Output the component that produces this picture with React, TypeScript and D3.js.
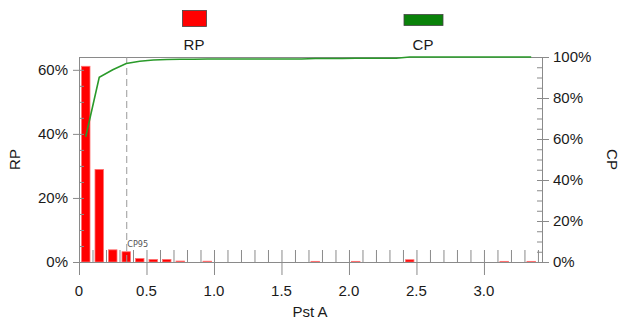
import React, { useRef, useEffect } from 'react';
import * as d3 from 'd3';

// bin starts (width 0.1) and relative percentage per bin
const binStarts = d3.range(0, 34).map(i => +(i * 0.1).toFixed(1));
const rpValues = [
  61.1, 28.9, 3.8, 3.2, 1.1, 0.8, 0.8, 0.3, 0, 0.25,
  0, 0, 0, 0, 0, 0, 0, 0.2, 0, 0,
  0.2, 0, 0, 0, 0.7, 0, 0, 0, 0, 0,
  0, 0.2, 0, 0.2,
];
// cumulative percentage at bin centres
const cpValues = [
  61.1, 90.1, 93.8, 96.8, 97.9, 98.5, 98.8, 98.9, 98.9, 99.0,
  99.0, 99.0, 99.0, 99.0, 99.0, 99.0, 99.0, 99.3, 99.3, 99.3,
  99.4, 99.4, 99.4, 99.4, 100, 100, 100, 100, 100, 100,
  100, 100, 100, 100,
];
const xTicks = [0, 0.5, 1.0, 1.5, 2.0, 2.5, 3.0];
const leftTicks = [0, 20, 40, 60];
const rightTicks = [0, 20, 40, 60, 80, 100];
const cp95 = 0.35;

const W = 624;
const H = 320;
const margin = { top: 57, right: 82, bottom: 58, left: 79 };
const font = '"Liberation Sans", Arial, sans-serif';

const App: React.FC = () => {
  const svgRef = useRef<SVGSVGElement>(null);

  useEffect(() => {
    const svg = d3.select(svgRef.current);
    svg.selectAll('*').remove();

    const innerWidth = W - margin.left - margin.right;
    const innerHeight = H - margin.top - margin.bottom;

    const g = svg.append('g').attr('transform', `translate(${margin.left}, ${margin.top})`);

    const x = d3.scaleLinear().domain([0, 3.43]).range([0, innerWidth]);
    const yL = d3.scaleLinear().domain([0, 64]).range([innerHeight, 0]);
    const yR = d3.scaleLinear().domain([0, 100]).range([innerHeight, 0]);

    const axisColor = '#8a8a8a';
    const textColor = '#1a1a1a';

    // frame top line
    g.append('line')
      .attr('x1', 0).attr('x2', innerWidth)
      .attr('y1', 0.5).attr('y2', 0.5)
      .attr('stroke', axisColor);

    // bars
    const binW = x(0.1) - x(0);
    const barW = binW * 0.63;
    g.selectAll('.bar')
      .data(rpValues.map((v, i) => ({ v, s: binStarts[i] })).filter(d => d.v > 0))
      .enter().append('rect')
      .attr('x', d => x(d.s + 0.05) - barW / 2)
      .attr('y', d => yL(d.v))
      .attr('width', barW)
      .attr('height', d => innerHeight - yL(d.v))
      .attr('fill', '#ff0000')
      .attr('stroke', '#ff7070')
      .attr('stroke-width', 0.8);

    // minor x ticks (inside, every 0.1)
    g.selectAll('.xminor')
      .data(d3.range(0, 35).map(i => i * 0.1))
      .enter().append('line')
      .attr('x1', d => x(d) + 0.5).attr('x2', d => x(d) + 0.5)
      .attr('y1', innerHeight).attr('y2', innerHeight - 12)
      .attr('stroke', axisColor);

    // x axis
    g.append('line')
      .attr('x1', 0).attr('x2', innerWidth)
      .attr('y1', innerHeight + 0.5).attr('y2', innerHeight + 0.5)
      .attr('stroke', axisColor);
    g.selectAll('.xmajor')
      .data(xTicks)
      .enter().append('line')
      .attr('x1', d => x(d) + 0.5).attr('x2', d => x(d) + 0.5)
      .attr('y1', innerHeight).attr('y2', innerHeight + 13)
      .attr('stroke', axisColor);
    g.selectAll('.xlabel')
      .data(xTicks)
      .enter().append('text')
      .attr('x', d => x(d))
      .attr('y', innerHeight + 34)
      .attr('text-anchor', 'middle')
      .attr('fill', textColor)
      .style('font-family', font)
      .style('font-size', '15px')
      .text(d => (d === 0 ? '0' : d.toFixed(1)));

    // left axis
    g.append('line')
      .attr('x1', 0.5).attr('x2', 0.5)
      .attr('y1', 0).attr('y2', innerHeight)
      .attr('stroke', axisColor);
    g.selectAll('.lminor')
      .data(d3.range(0, 65, 5))
      .enter().append('line')
      .attr('x1', 0).attr('x2', 5)
      .attr('y1', d => yL(d) + 0.5).attr('y2', d => yL(d) + 0.5)
      .attr('stroke', axisColor);
    g.selectAll('.lmajor')
      .data(leftTicks)
      .enter().append('line')
      .attr('x1', -6).attr('x2', 0)
      .attr('y1', d => yL(d) + 0.5).attr('y2', d => yL(d) + 0.5)
      .attr('stroke', axisColor);
    g.selectAll('.llabel')
      .data(leftTicks)
      .enter().append('text')
      .attr('x', -11)
      .attr('y', d => yL(d) + 5)
      .attr('text-anchor', 'end')
      .attr('fill', textColor)
      .style('font-family', font)
      .style('font-size', '15px')
      .text(d => `${d}%`);

    // right axis
    g.append('line')
      .attr('x1', innerWidth + 0.5).attr('x2', innerWidth + 0.5)
      .attr('y1', 0).attr('y2', innerHeight)
      .attr('stroke', axisColor);
    g.selectAll('.rminor')
      .data(d3.range(0, 101, 5))
      .enter().append('line')
      .attr('x1', innerWidth - 5).attr('x2', innerWidth)
      .attr('y1', d => yR(d) + 0.5).attr('y2', d => yR(d) + 0.5)
      .attr('stroke', axisColor);
    g.selectAll('.rmajor')
      .data(rightTicks)
      .enter().append('line')
      .attr('x1', innerWidth).attr('x2', innerWidth + 7)
      .attr('y1', d => yR(d) + 0.5).attr('y2', d => yR(d) + 0.5)
      .attr('stroke', axisColor);
    g.selectAll('.rlabel')
      .data(rightTicks)
      .enter().append('text')
      .attr('x', innerWidth + 11)
      .attr('y', d => yR(d) + 5)
      .attr('fill', textColor)
      .style('font-family', font)
      .style('font-size', '15px')
      .text(d => `${d}%`);

    // CP95 marker
    g.append('line')
      .attr('x1', x(cp95) + 0.5).attr('x2', x(cp95) + 0.5)
      .attr('y1', 0).attr('y2', innerHeight)
      .attr('stroke', '#9a9a9a')
      .attr('stroke-dasharray', '7,4');
    g.append('text')
      .attr('x', x(cp95) + 1)
      .attr('y', innerHeight - 15)
      .attr('fill', '#555')
      .style('font-family', '"DejaVu Sans Condensed", "DejaVu Sans", sans-serif')
      .style('font-size', '9px')
      .text('CP95');

    // CP line
    const line = d3.line<number>()
      .x((_, i) => x(binStarts[i] + 0.05))
      .y(d => yR(d));
    g.append('path')
      .datum(cpValues)
      .attr('d', line)
      .attr('fill', 'none')
      .attr('stroke', '#2a9a2a')
      .attr('stroke-width', 1.6);

    // axis titles
    svg.append('text')
      .attr('transform', `translate(20, ${margin.top + innerHeight / 2}) rotate(-90)`)
      .attr('text-anchor', 'middle')
      .attr('fill', textColor)
      .style('font-family', font)
      .style('font-size', '15px')
      .text('RP');
    svg.append('text')
      .attr('transform', `translate(607, ${margin.top + innerHeight / 2}) rotate(90)`)
      .attr('text-anchor', 'middle')
      .attr('fill', textColor)
      .style('font-family', font)
      .style('font-size', '15px')
      .text('CP');
    svg.append('text')
      .attr('x', 310)
      .attr('y', 317)
      .attr('text-anchor', 'middle')
      .attr('fill', textColor)
      .style('font-family', font)
      .style('font-size', '15px')
      .text('Pst A');

    // legend
    const legend = [
      { name: 'RP', cx: 194, y: 10, w: 24, h: 16, fill: '#ff0000' },
      { name: 'CP', cx: 423, y: 14, w: 39, h: 11, fill: '#0a820a' },
    ];
    legend.forEach(l => {
      svg.append('rect')
        .attr('x', l.cx - l.w / 2 + 0.5)
        .attr('y', l.y + 0.5)
        .attr('width', l.w)
        .attr('height', l.h)
        .attr('fill', l.fill)
        .attr('stroke', '#444')
        .attr('stroke-width', 0.8);
      svg.append('text')
        .attr('x', l.cx)
        .attr('y', 50)
        .attr('text-anchor', 'middle')
        .attr('fill', textColor)
        .style('font-family', font)
        .style('font-size', '15px')
        .text(l.name);
    });
  }, []);

  return (
    <svg
      ref={svgRef}
      width={W}
      height={H}
      style={{ position: 'absolute', left: 0, top: 0, background: '#fff' }}
    />
  );
};

export default App;
